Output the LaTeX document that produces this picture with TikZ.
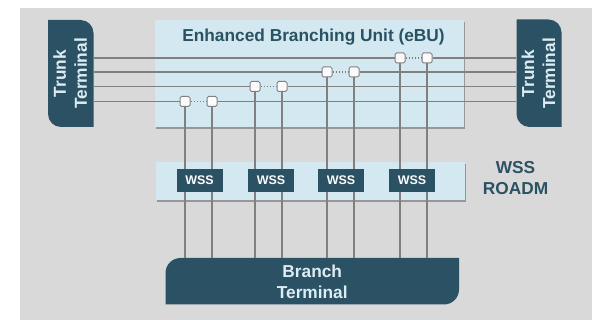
\documentclass[tikz,border=0pt]{standalone}
\usepackage{fontspec}
\setmainfont{Liberation Sans}
\usetikzlibrary{shadows}

\definecolor{panelgray}{HTML}{D9D9D9}
\definecolor{lightblue}{HTML}{D3E8F0}
\definecolor{darkteal}{HTML}{2B5264}
\definecolor{fibergray}{HTML}{808080}
\definecolor{termtext}{HTML}{DCECF2}

\tikzset{
  band/.style={rectangle, fill=lightblue, inner sep=0pt, drop shadow={shadow xshift=1.2pt, shadow yshift=-1.8pt, fill=black, opacity=.3}},
  terminal/.style={rectangle, inner sep=0pt, align=center, text=termtext, font=\fontsize{17.3}{21}\selectfont\bfseries},
  wssbox/.style={rectangle, fill=darkteal, text=white, inner sep=0pt, minimum width=46pt, minimum height=23pt, font=\fontsize{12.5}{14}\selectfont\bfseries},
  switchbox/.style={rectangle, rounded corners=1.5pt, draw=fibergray, line width=1pt, fill=white!92!panelgray, inner sep=0pt, minimum size=10pt},
  fiber/.style={draw=fibergray, line width=1.5pt},
  heading/.style={align=center, inner sep=0pt, text=darkteal, font=\fontsize{17.3}{21}\selectfont\bfseries}
}

\begin{document}
\begin{tikzpicture}[x=1pt, y=-1pt]
\useasboundingbox (0, 0) rectangle (592, 320);
\fill [panelgray] (20, 8) rectangle (592, 320);

\node [band, minimum width=309pt, minimum height=107.5pt] (ebu) at (309.5, 73.5) {};
\node [band, minimum width=309pt, minimum height=38pt] (wssband) at (310.5, 181) {};

%terminal outlines
\fill [darkteal] (48, 20) [rounded corners=13pt] -- (93.5, 20) -- (93.5, 70) [sharp corners] -- (93.5, 127) [rounded corners=13pt] -- (48, 127) -- (48, 70) [sharp corners] -- cycle;
\fill [darkteal] (516.5, 19.5) [rounded corners=13pt] -- (561.5, 19.5) -- (561.5, 70) [sharp corners] -- (561.5, 127) [rounded corners=13pt] -- (516.5, 127) -- (516.5, 70) [sharp corners] -- cycle;
\fill [darkteal] (165.5, 304.5) [rounded corners=15pt] -- (165.5, 258) -- (300, 258) [sharp corners] -- (459, 258) [rounded corners=15pt] -- (459, 304.5) -- (300, 304.5) [sharp corners] -- cycle;

\node [terminal, rotate=90, minimum width=107pt, minimum height=45.5pt] (trunkL) at (70.25, 73.5) {Trunk\\Terminal};
\node [terminal, rotate=90, minimum width=107pt, minimum height=45pt] (trunkR) at (538.5, 73.5) {Trunk\\Terminal};
\node [terminal, minimum width=293.5pt, minimum height=46.5pt] (branch) at (312.25, 281.75) {Branch\\Terminal};

\node [heading] (ebutitle) at (313.5, 37.5) {Enhanced Branching Unit (eBU)};
\node [heading] (roadm) at (515.5, 178.5) {WSS\\ROADM};

\foreach \n/\xa/\xb/\yy/\xw in {1/185/212/101.5/199.5, 2/255/282/86.5/271, 3/327/354/72/341, 4/400/427/58/412}{
  \node [switchbox] (sw\n a) at (\xa, \yy) {};
  \node [switchbox] (sw\n b) at (\xb, \yy) {};
  \node [wssbox] (wss\n) at (\xw, 180.5) {WSS};
  \draw [fiber] (trunkL.south |- sw\n a) -- (sw\n a);
  \draw [fiber] (sw\n b) -- (trunkR.north |- sw\n b);
  \draw [fibergray, line width=1.5pt, dash pattern=on 1.5pt off 1.5pt] (sw\n a) -- (sw\n b);
  \foreach \s in {a, b}{
    \draw [fiber] (sw\n\s) -- (sw\n\s |- wss\n.north);
    \draw [fiber] (sw\n\s |- wss\n.south) -- (sw\n\s |- branch.north);
  }
}
\end{tikzpicture}
\end{document}
